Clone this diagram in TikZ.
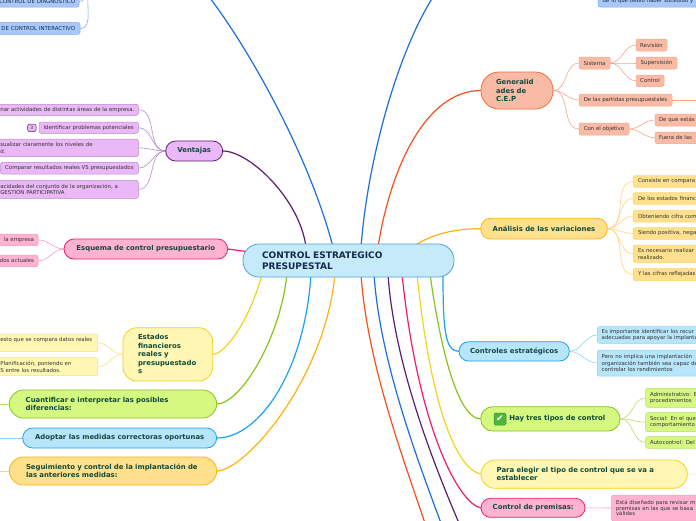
\documentclass[tikz,border=0pt]{standalone}
\usepackage{fontspec}
\setmainfont{DejaVu Sans}
\usetikzlibrary{backgrounds,calc}
\definecolor{cenF}{HTML}{C5EAFA}
\definecolor{cenD}{HTML}{4EA3DE}
\definecolor{cenT}{HTML}{15294D}
\definecolor{brT}{HTML}{0F4A3C}
\definecolor{lfT}{HTML}{333333}
\definecolor{salF}{HTML}{FABBA6}
\definecolor{salD}{HTML}{F26A3D}
\definecolor{salL}{HTML}{F7A68A}
\definecolor{purF}{HTML}{EAB8F6}
\definecolor{purD}{HTML}{5E1B74}
\definecolor{purL}{HTML}{B98BCB}
\definecolor{pnkF}{HTML}{FFB3D1}
\definecolor{pnkD}{HTML}{EC1C6B}
\definecolor{pnkL}{HTML}{F49ABE}
\definecolor{yelF}{HTML}{FFF7B3}
\definecolor{yelD}{HTML}{F2D41C}
\definecolor{yelL}{HTML}{F6E27E}
\definecolor{grnF}{HTML}{D5F880}
\definecolor{grnD}{HTML}{8CC21E}
\definecolor{grnL}{HTML}{B8DF6A}
\definecolor{cyaF}{HTML}{B7E5FB}
\definecolor{cyaD}{HTML}{1BA3EE}
\definecolor{cyaL}{HTML}{8DD3F6}
\definecolor{orgF}{HTML}{FFE08D}
\definecolor{orgD}{HTML}{FFB20F}
\definecolor{orgL}{HTML}{FFD47A}
\definecolor{bluF}{HTML}{A8C8F8}
\definecolor{bluD}{HTML}{1C6FDB}
\definecolor{bluL}{HTML}{7FAAF0}
\definecolor{redD}{HTML}{F4511E}
\definecolor{chkF}{HTML}{4FB83A}
\tikzset{
  every node/.style={inner sep=0pt, outer sep=0pt},
  cenbox/.style={draw=cenD, fill=cenF, line width=0.8pt, rounded corners=16pt, text=cenT, font=\fontsize{9}{11.3}\selectfont\bfseries},
  brbox/.style={line width=0.8pt, text=brT, font=\fontsize{6.9}{7.7}\selectfont\bfseries},
  lfbox/.style={line width=0.5pt, rounded corners=2pt, text=lfT, font=\fontsize{5.4}{6.4}\selectfont},
  maincon/.style={line width=1.2pt},
  leafcon/.style={line width=0.6pt},
}
\begin{document}
\begin{tikzpicture}[x=1pt,y=-1pt]
\useasboundingbox (0,0) rectangle (696,520);
\clip (0,0) rectangle (696,520);
% ---------- centre
\node[cenbox, minimum width=211pt, minimum height=33pt, text width=173pt, align=left] (cen) at (348.5,260.5) {\mbox{CONTROL ESTRATEGICO}\\\mbox{PRESUPESTAL}};
% ---------- top blue (off-screen parents)
\node[lfbox, fill=bluF, draw=bluL, text=cenT, minimum width=139pt, minimum height=11pt, text width=131pt, align=right] (tb1) at (9.5,1.5) {CONTROL DE DIAGNOSTICO};
\node[lfbox, fill=bluF, draw=bluL, text=cenT, minimum width=140pt, minimum height=11.6pt, text width=130pt, align=right] (tb2) at (10,28.5) {DE CONTROL INTERACTIVO};
\node[lfbox, fill=bluF, draw=bluL, text=cenT, minimum width=162pt, minimum height=13pt, text width=152.6pt, align=left] (tb3) at (679,0.5) {de lo que debió haber sucedido y};
\coordinate (tbp) at (96,-14);
\coordinate (tlx) at (170,-40);
\coordinate (trx) at (470,-40);
% ---------- Generalidades
\node[brbox, fill=salF, draw=salD, rounded corners=18pt, minimum width=72pt, minimum height=37pt, text width=42pt, align=left, font=\fontsize{6.9}{8.5}\selectfont\bfseries] (gen) at (517,90.5) {\mbox{Generalid}\\\mbox{ades de}\\\mbox{C.E.P}};
\node[lfbox, fill=salF, draw=salL, minimum width=31pt, minimum height=12pt] (sis) at (594.5,63) {Sistema};
\node[lfbox, fill=salF, draw=salL, minimum width=31pt, minimum height=12pt] (rev) at (651.5,45) {Revisión};
\node[lfbox, fill=salF, draw=salL, minimum width=41pt, minimum height=12pt] (sup) at (656.5,63) {Supervisión};
\node[lfbox, fill=salF, draw=salL, minimum width=28pt, minimum height=11.5pt] (ctl) at (650,80.75) {Control};
\node[lfbox, fill=salF, draw=salL, minimum width=93pt, minimum height=12pt] (dlp) at (625.5,100) {De las partidas presupuestales};
\node[lfbox, fill=salF, draw=salL, minimum width=50pt, minimum height=12pt] (con) at (604,129) {Con el objetivo};
\node[lfbox, fill=salF, draw=salL, minimum width=105pt, minimum height=12pt, text width=97pt, align=left] (dqe) at (707.5,120) {De que estás};
\node[lfbox, fill=salF, draw=salL, minimum width=105pt, minimum height=11.5pt, text width=97pt, align=left] (fue) at (707.5,137.75) {Fuera de las};
\coordinate (dlpx) at (720,100);
% ---------- Ventajas
\node[brbox, fill=purF, draw=purD, rounded corners=10pt, minimum width=57pt, minimum height=20pt] (ven) at (194.2,151) {Ventajas};
\node[lfbox, fill=purF, draw=purL, minimum width=148.3pt, minimum height=11pt, text width=140.3pt, align=right] (v1) at (64.15,109.8) {nar actividades de distintas áreas de la empresa.};
\node[lfbox, fill=purF, draw=purL, minimum width=99.3pt, minimum height=11.3pt] (v2) at (88.65,127.65) {Identificar problemas potenciales};
\node[lfbox, fill=purF, draw=purD, minimum width=8.3pt, minimum height=7.7pt, font=\fontsize{4.5}{5}\selectfont] (bdg) at (31.85,127.85) {3};
\node[lfbox, fill=purF, draw=purL, minimum width=148.3pt, minimum height=17.7pt, text width=127.7pt, align=left] (v3) at (64.15,147.85) {\mbox{sualizar claramente los niveles de}\\d.};
\node[lfbox, fill=purF, draw=purL, minimum width=137.8pt, minimum height=11.7pt] (v4) at (69.4,168.15) {Comparar resultados reales VS presupuestados};
\node[lfbox, fill=purF, draw=purL, minimum width=148.3pt, minimum height=18pt, text width=127.7pt, align=left] (v5) at (64.15,189.3) {\mbox{acidades del conjunto de la organización, a}\\GESTION PARTICIPATIVA};
% ---------- Esquema
\node[brbox, fill=pnkF, draw=pnkD, rounded corners=10pt, minimum width=163.7pt, minimum height=20pt] (esq) at (145.85,249) {Esquema de control presupuestario};
\node[lfbox, fill=pnkF, draw=pnkL, minimum width=58pt, minimum height=11.7pt, text width=50pt, align=right] (e1) at (9,239.85) {la empresa};
\node[lfbox, fill=pnkF, draw=pnkL, minimum width=58pt, minimum height=11.7pt, text width=50pt, align=right] (e2) at (9,260.85) {dos actuales};
% ---------- Estados
\node[brbox, fill=yelF, draw=yelD, rounded corners=14pt, minimum width=89.7pt, minimum height=53.3pt, text width=59.7pt, align=left, font=\fontsize{6.9}{8.5}\selectfont\bfseries] (est) at (167.85,354.35) {\mbox{Estados}\\\mbox{financieros}\\\mbox{reales y}\\\mbox{presupuestado}\\s};
\node[lfbox, fill=yelF, draw=yelL, minimum width=107.7pt, minimum height=17.7pt, text width=87.1pt, align=left] (y1) at (43.85,342.85) {\mbox{esto que se compara datos reales}\\\mbox{}};
\node[lfbox, fill=yelF, draw=yelL, minimum width=107.7pt, minimum height=18pt, text width=87.1pt, align=left] (y2) at (43.85,366.7) {\mbox{Planificación, poniendo en}\\\mbox{S entre los resultados.}};
% ---------- bottom-left branches
\node[brbox, fill=grnF, draw=grnD, rounded corners=14pt, minimum width=207.4pt, minimum height=28pt, text width=174.6pt, align=left] (cua) at (113,404) {\mbox{Cuantificar e interpretar las posibles}\\\mbox{diferencias:}};
\node[brbox, fill=cyaF, draw=cyaD, rounded corners=10pt, minimum width=194pt, minimum height=20pt] (ado) at (119.7,438) {Adoptar las medidas correctoras oportunas};
\node[brbox, fill=orgF, draw=orgD, rounded corners=14pt, minimum width=207.4pt, minimum height=28pt, text width=174pt, align=left] (seg) at (113,471) {\mbox{Seguimiento y control de la implantación de}\\\mbox{las anteriores medidas:}};
\coordinate (cuax) at (-20,404);
\coordinate (adox) at (-20,438);
\coordinate (segx) at (-20,471);
% ---------- Analisis
\node[brbox, fill=orgF, draw=orgD, rounded corners=10pt, minimum width=126.6pt, minimum height=20.7pt] (ana) at (544,228.65) {Análisis de las variaciones};
\node[lfbox, fill=orgF, draw=orgL, minimum width=127pt, minimum height=11.6pt, text width=117pt, align=left] (a1) at (696.5,181.5) {Consiste en compara};
\node[lfbox, fill=orgF, draw=orgL, minimum width=127pt, minimum height=11.6pt, text width=117pt, align=left] (a2) at (696.5,198.5) {De los estados financ};
\node[lfbox, fill=orgF, draw=orgL, minimum width=127pt, minimum height=12pt, text width=117pt, align=left] (a3) at (696.5,216) {Obteniendo cifra com};
\node[lfbox, fill=orgF, draw=orgL, minimum width=127pt, minimum height=11.6pt, text width=117pt, align=left] (a4) at (696.5,233.5) {Siendo positiva, nega};
\node[lfbox, fill=orgF, draw=orgL, minimum width=127pt, minimum height=17.7pt, text width=117pt, align=left] (a5) at (696.5,253.85) {Es necesario realizar\\realizado.};
\node[lfbox, fill=orgF, draw=orgL, minimum width=127pt, minimum height=12.4pt, text width=117pt, align=left] (a6) at (696.5,274.5) {Y las cifras reflejadas};
% ---------- Controles estrategicos
\node[brbox, fill=cyaF, draw=cyaD, rounded corners=9.6pt, minimum width=110.3pt, minimum height=19.3pt] (ctr) at (514.15,351.35) {Controles estratégicos};
\node[lfbox, fill=cyaF, draw=cyaL, minimum width=162.7pt, minimum height=16.6pt, text width=153.9pt, align=left] (c1) at (678.65,335) {\mbox{Es importante identificar los recur}\\\mbox{adecuadas para apoyar la implanta}};
\node[lfbox, fill=cyaF, draw=cyaL, minimum width=162.7pt, minimum height=26pt, text width=153.9pt, align=left] (c2) at (678.65,363) {\mbox{Pero no implica una implantación}\\\mbox{organización también sea capaz de}\\\mbox{controlar los rendimientos}};
% ---------- Hay tres tipos
\node[brbox, fill=grnF, draw=grnD, rounded corners=12pt, minimum width=139.3pt, minimum height=24.3pt, text width=82.1pt, align=left] (hay) at (550.35,418.85) {\mbox{Hay tres tipos de control}};
\node[fill=chkF, draw=chkF!75!black, line width=0.5pt, rounded corners=1.5pt, minimum width=12pt, minimum height=12pt, text=white, font=\fontsize{9}{9}\selectfont] (chk) at (500,419) {✔};
\node[lfbox, fill=grnF, draw=grnL, minimum width=114.3pt, minimum height=19pt, text width=105.7pt, align=left] (h1) at (702.85,397.8) {Administrativo: E\\procedimientos};
\node[lfbox, fill=grnF, draw=grnL, minimum width=114.3pt, minimum height=19pt, text width=105.7pt, align=left] (h2) at (702.85,422.2) {Social: En el que\\comportamiento};
\node[lfbox, fill=grnF, draw=grnL, minimum width=114.3pt, minimum height=11.6pt, text width=105.7pt, align=left] (h3) at (702.85,442.5) {Autocontrol: Del};
% ---------- Para elegir
\node[brbox, fill=yelF, draw=yelD, rounded corners=14pt, minimum width=206.3pt, minimum height=28.3pt, text width=174.9pt, align=left] (par) at (584.15,474.15) {\mbox{Para elegir el tipo de control que se va a}\\\mbox{establecer}};
\coordinate (parx) at (720,474);
% ---------- Control de premisas
\node[brbox, fill=pnkF, draw=pnkD, rounded corners=9.5pt, minimum width=104pt, minimum height=19pt, text width=80.6pt, align=left] (pre) at (533,507.8) {\mbox{Control de premisas:}};
\node[lfbox, fill=pnkF, draw=pnkL, minimum width=148.3pt, minimum height=26pt, text width=139.7pt, align=left, font=\fontsize{5.4}{5.8}\selectfont] (p1) at (685.85,508) {\mbox{Está diseñado para revisar m}\\\mbox{premisas en las que se basa}\\válidas};
% ---------- bottom off-screen
\coordinate (bo) at (440,570);
\coordinate (bb) at (458,570);
\coordinate (bp) at (480,570);

\begin{pgfonlayer}{background}
\clip (0,0) rectangle (696,520);
\fill[white] (0,0) rectangle (696,520);
% main connectors
\draw[maincon, bluD] ($(cen.north)+(-15.5,3)$) .. controls (300,120) and (195,-40) .. (tlx);
\draw[maincon, bluD] ($(cen.north)+(12.5,3)$) .. controls (370,130) and (420,-20) .. (trx);
\draw[maincon, redD] ($(cen.north)+(29.5,3)$) .. controls (390,170) and (425,90.5) .. (gen.west);
\draw[maincon, purD] ($(cen.north)+(-42.5,3)$) .. controls (300,200) and (250,151) .. (ven.east);
\draw[maincon, orgD] ($(cen.north)+(65.5,2)$) .. controls (432,234) and (455,228.65) .. (ana.west);
\draw[maincon, pnkD] (esq.east) -- ($(cen.west)+(7,-8.5)$);
\draw[maincon, yelD] ($(cen.south)+(-86.5,-3)$) .. controls (250,320) and (225,354.35) .. (est.east);
\draw[maincon, grnD] ($(cen.south)+(-61.5,-3)$) .. controls (280,340) and (240,404) .. (cua.east);
\draw[maincon, cyaD] ($(cen.south)+(-37.5,-3)$) .. controls (305,370) and (260,438) .. (ado.east);
\draw[maincon, orgD] ($(cen.south)+(-13.5,-3)$) .. controls (325,380) and (245,471) .. (seg.east);
\draw[maincon, redD] ($(cen.south)+(12.5,-3)$) .. controls (368,380) and (420,500) .. (bo);
\draw[maincon, bluD] ($(cen.south)+(25.5,-3)$) .. controls (381,380) and (436,505) .. (bb);
\draw[maincon, purD] ($(cen.south)+(39.5,-3)$) .. controls (395,380) and (450,505) .. (bp);
\draw[maincon, pnkD] ($(cen.south)+(53.5,-3)$) .. controls (418,430) and (460,505) .. (pre.west);
\draw[maincon, yelD] ($(cen.south)+(68.5,-3)$) .. controls (432,420) and (460,470) .. (par.west);
\draw[maincon, grnD] ($(cen.south)+(81.5,-3)$) .. controls (442,360) and (460,419) .. (hay.west);
\draw[maincon, cyaD] ($(cen.south)+(94.5,-3)$) .. controls (443,330) and (445,351.35) .. (ctr.west);
% leaf connectors
\foreach \n in {tb1,tb2} \draw[leafcon, bluL] (\n.east) to[out=0,in=180] (tbp);
\foreach \n in {sis,dlp,con} \draw[leafcon, salL] (gen.east) to[out=0,in=180] (\n.west);
\foreach \n in {rev,sup,ctl} \draw[leafcon, salL] (sis.east) to[out=0,in=180] (\n.west);
\foreach \n in {dqe,fue} \draw[leafcon, salL] (con.east) to[out=0,in=180] (\n.west);
\draw[leafcon, salL] (dlp.east) -- (dlpx);
\foreach \n in {v1,v2,v3,v4,v5} \draw[leafcon, purL] (ven.west) to[out=180,in=0] (\n.east);
\foreach \n in {e1,e2} \draw[leafcon, pnkL] (esq.west) to[out=180,in=0] (\n.east);
\foreach \n in {y1,y2} \draw[leafcon, yelL] (est.west) to[out=180,in=0] (\n.east);
\draw[leafcon, grnL] (cua.west) -- (cuax);
\draw[leafcon, cyaL] (ado.west) -- (adox);
\draw[leafcon, orgL] (seg.west) -- (segx);
\foreach \n in {a1,a2,a3,a4,a5,a6} \draw[leafcon, orgL] (ana.east) to[out=0,in=180] (\n.west);
\foreach \n in {c1,c2} \draw[leafcon, cyaL] (ctr.east) to[out=0,in=180] (\n.west);
\foreach \n in {h1,h2,h3} \draw[leafcon, grnL] (hay.east) to[out=0,in=180] (\n.west);
\draw[leafcon, yelL] (par.east) -- (parx);
\draw[leafcon, pnkL] (pre.east) -- (p1.west);
\end{pgfonlayer}
\end{tikzpicture}
\end{document}
